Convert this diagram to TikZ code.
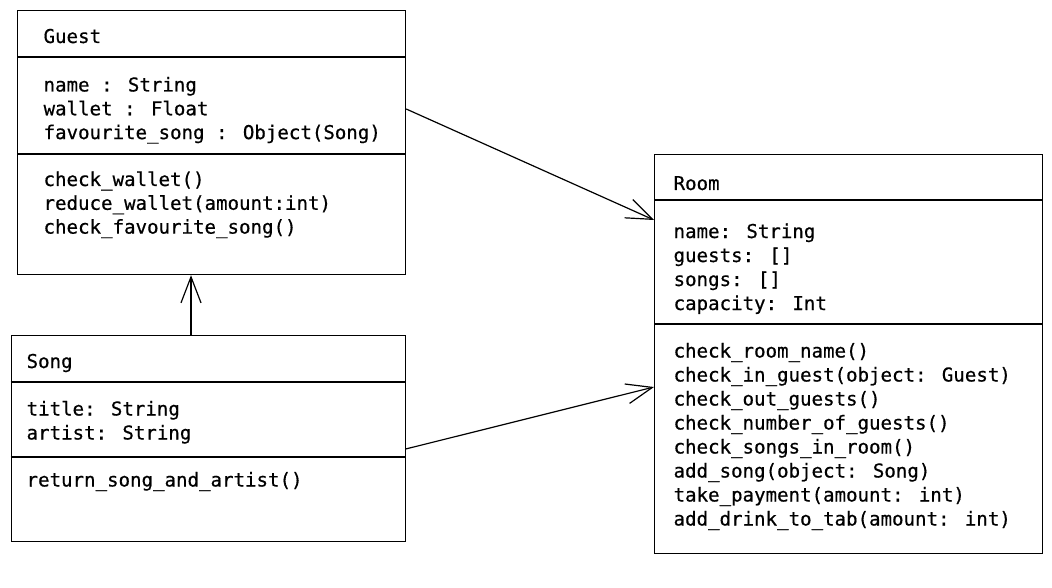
\documentclass[tikz,border=0pt]{standalone}
\usepackage{fontspec}
\newfontfamily\codefont[FakeBold=0.6]{DejaVu Sans Mono}
\usetikzlibrary{arrows.meta}

\begin{document}
\begin{tikzpicture}[x=1pt,y=-1pt,line width=1.2pt,
  classbox/.style={draw,rectangle,inner sep=0pt,anchor=north west},
  txt/.style={anchor=base west,inner sep=0pt,font=\codefont\fontsize{19.1}{24}\selectfont},
  assoc/.style={-{Straight Barb[length=26pt,width=20pt]}}]
  \useasboundingbox (0,0) rectangle (1052,588);

  % Guest
  \node[classbox,minimum width=388pt,minimum height=264pt] (guest) at (17,10) {};
  \draw (guest.west |- 0,57) -- (guest.east |- 0,57);
  \draw (guest.west |- 0,154) -- (guest.east |- 0,154);
  \node[txt] (guesttitle) at (43,43) {Guest};
  \foreach \t [count=\i] in {name : String, wallet : Float,
      favourite\_song : Object(Song)}
    \node[txt] (ga\i) at (43,91.5+23.8*\i-23.8) {\t};
  \foreach \t [count=\i] in {check\_wallet(), reduce\_wallet(amount:int),
      check\_favourite\_song()}
    \node[txt] (gm\i) at (43,186+23.8*\i-23.8) {\t};

  % Song
  \node[classbox,minimum width=394pt,minimum height=206pt] (song) at (10.5,335) {};
  \draw (song.west |- 0,382) -- (song.east |- 0,382);
  \draw (song.west |- 0,457) -- (song.east |- 0,457);
  \node[txt] (songtitle) at (26,368) {Song};
  \node[txt] (sa1) at (26,415.5) {title: String};
  \node[txt] (sa2) at (26,439.5) {artist: String};
  \node[txt] (sm1) at (26,486.5) {return\_song\_and\_artist()};

  % Room
  \node[classbox,minimum width=388pt,minimum height=399pt] (room) at (654,154) {};
  \draw (room.west |- 0,200) -- (room.east |- 0,200);
  \draw (room.west |- 0,324) -- (room.east |- 0,324);
  \node[txt] (roomtitle) at (673,190) {Room};
  \foreach \t [count=\i] in {name: String, guests: [], songs: [], capacity: Int}
    \node[txt] (ra\i) at (673,238+24*\i-24) {\t};
  \foreach \t [count=\i] in {check\_room\_name(), check\_in\_guest(object: Guest),
      check\_out\_guests(), check\_number\_of\_guests(), check\_songs\_in\_room(),
      add\_song(object: Song), take\_payment(amount: int),
      add\_drink\_to\_tab(amount: int)}
    \node[txt] (rm\i) at (673,357.5+24*\i-24) {\t};

  % associations
  \draw[assoc] (guest.east |- 0,109) -- (room.west |- 0,220);
  \draw[assoc] (song.north -| 191,0) -- (guest.south -| 191,0);
  \draw[assoc] (song.east |- 0,449) -- (room.west |- 0,387);
\end{tikzpicture}
\end{document}
